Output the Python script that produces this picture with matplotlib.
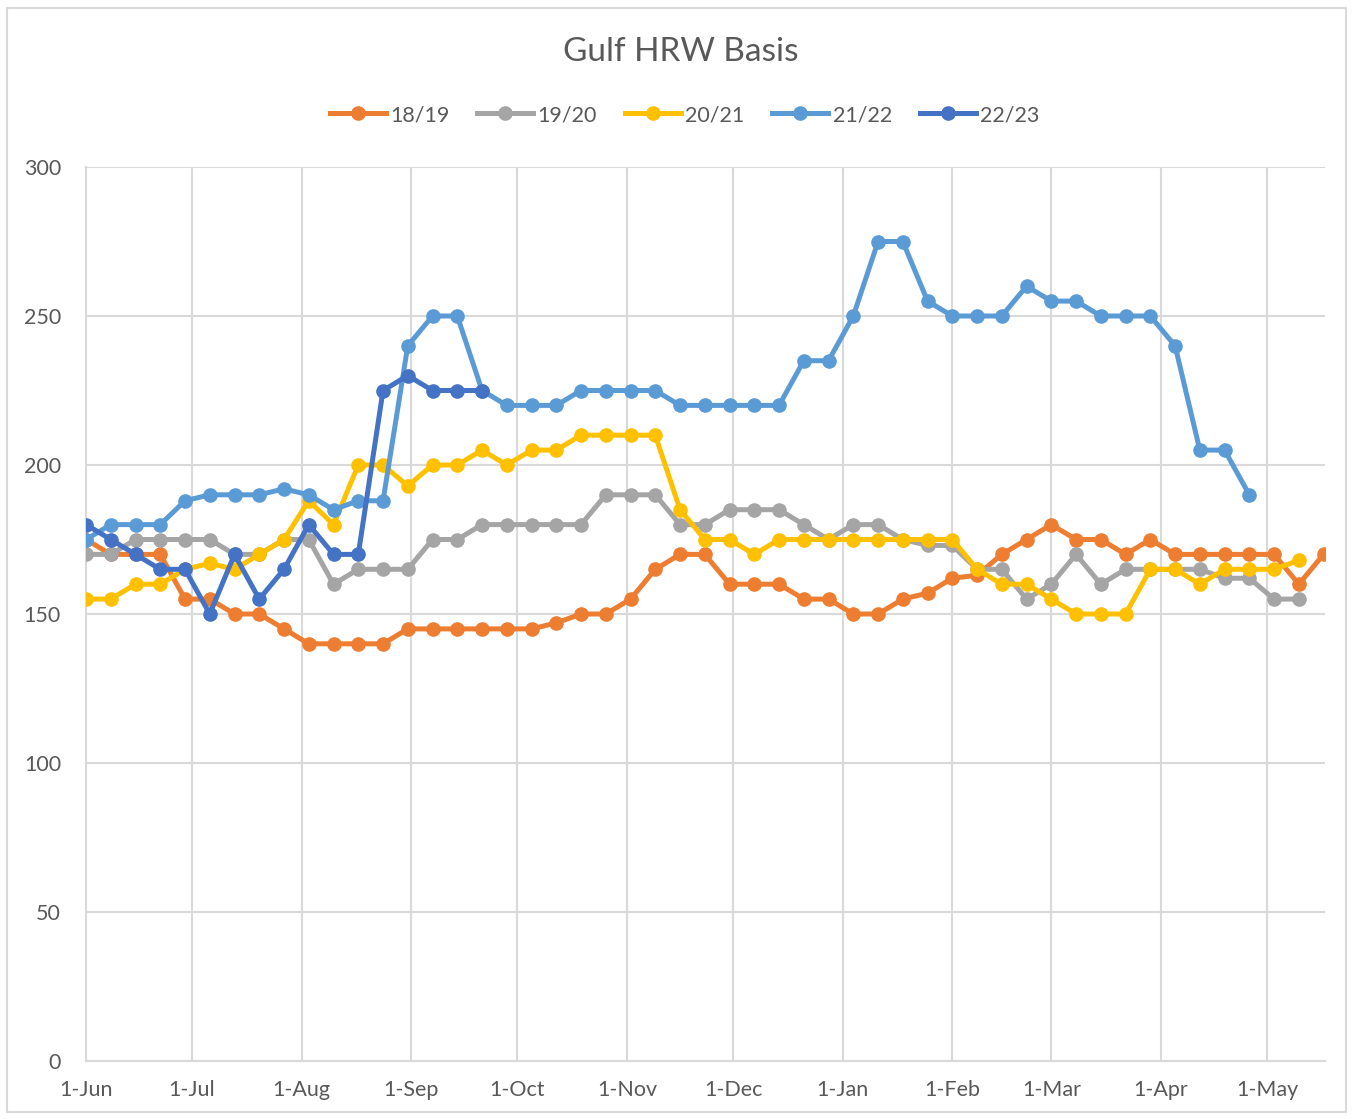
import matplotlib
matplotlib.use('Agg')
import matplotlib.pyplot as plt
import matplotlib.dates as mdates
from matplotlib.patches import Rectangle
import pandas as pd

# weekly observation dates (all seasons drawn on the same Jun-May calendar)
weeks = pd.date_range('2022-06-01', periods=51, freq='7D')
month_ticks = pd.date_range('2022-06-01', '2023-05-01', freq='MS')
month_labels = ['1-Jun', '1-Jul', '1-Aug', '1-Sep', '1-Oct', '1-Nov', '1-Dec',
                '1-Jan', '1-Feb', '1-Mar', '1-Apr', '1-May']

s1819 = [175, 170, 170, 170, 155, 155, 150, 150, 145, 140, 140, 140, 140, 145, 145, 145, 145,
         145, 145, 147, 150, 150, 155, 165, 170, 170, 160, 160, 160, 155, 155, 150, 150, 155,
         157, 162, 163, 170, 175, 180, 175, 175, 170, 175, 170, 170, 170, 170, 170, 160, 170]
s1920 = [170, 170, 175, 175, 175, 175, 170, 170, 175, 175, 160, 165, 165, 165, 175, 175, 180,
         180, 180, 180, 180, 190, 190, 190, 180, 180, 185, 185, 185, 180, 175, 180, 180, 175,
         173, 173, 165, 165, 155, 160, 170, 160, 165, 165, 165, 165, 162, 162, 155, 155]
s2021 = [155, 155, 160, 160, 165, 167, 165, 170, 175, 188, 180, 200, 200, 193, 200, 200, 205,
         200, 205, 205, 210, 210, 210, 210, 185, 175, 175, 170, 175, 175, 175, 175, 175, 175,
         175, 175, 165, 160, 160, 155, 150, 150, 150, 165, 165, 160, 165, 165, 165, 168]
s2122 = [175, 180, 180, 180, 188, 190, 190, 190, 192, 190, 185, 188, 188, 240, 250, 250, 225,
         220, 220, 220, 225, 225, 225, 225, 220, 220, 220, 220, 220, 235, 235, 250, 275, 275,
         255, 250, 250, 250, 260, 255, 255, 250, 250, 250, 240, 205, 205, 190]
s2223 = [180, 175, 170, 165, 165, 150, 170, 155, 165, 180, 170, 170, 225, 230, 225, 225, 225]

series = [('18/19', s1819, '#ED7D31'),
          ('19/20', s1920, '#A5A5A5'),
          ('20/21', s2021, '#FFC000'),
          ('21/22', s2122, '#5B9BD5'),
          ('22/23', s2223, '#4472C4')]

plt.rcParams['font.family'] = ['Lato', 'DejaVu Sans']
txt = '#595959'
grid = '#D9D9D9'

fig = plt.figure(figsize=(13.53, 11.19), dpi=100)
ax = fig.add_axes([86 / 1353, 1 - 1061 / 1119, (1325 - 86) / 1353, (1061 - 167) / 1119])

for name, vals, col in series:
    ax.plot(weeks[:len(vals)], vals, color=col, lw=3.6, marker='o', ms=9.5,
            label=name, solid_joinstyle='round', zorder=3)

# axes
x0 = mdates.date2num(pd.Timestamp('2022-06-01'))
ax.set_xlim(x0, x0 + 350.4)
ax.set_ylim(0, 300)
ax.set_yticks(range(0, 301, 50))
ax.set_xticks(mdates.date2num(month_ticks))
ax.set_xticklabels(month_labels)
ax.grid(True, color=grid, lw=1.5)
ax.set_axisbelow(True)
for sp in ['top', 'right']:
    ax.spines[sp].set_visible(False)
ax.spines['left'].set_color(grid)
ax.spines['bottom'].set_color(grid)
ax.spines['left'].set_linewidth(1.5)
ax.spines['bottom'].set_linewidth(1.5)
ax.tick_params(axis='both', length=0, labelsize=15.5, colors=txt)
ax.tick_params(axis='y', pad=18)
ax.tick_params(axis='x', pad=14)

fig.text(0.503, 1 - 52 / 1119, 'Gulf HRW Basis', ha='center', va='center',
         fontsize=24, color=txt)
fig.legend(loc='center', bbox_to_anchor=(0.506, 1 - 115 / 1119), ncol=5, frameon=False,
           fontsize=15.5, labelcolor=txt, handlelength=2.6, handletextpad=0.2,
           columnspacing=1.3)

# chart border
fig.patches.append(Rectangle((7 / 1353, 1 - 1112 / 1119), 1339 / 1353, 1104 / 1119,
                             transform=fig.transFigure, fill=False, edgecolor=grid, lw=1.5))

fig.savefig('out.png', dpi=100)
